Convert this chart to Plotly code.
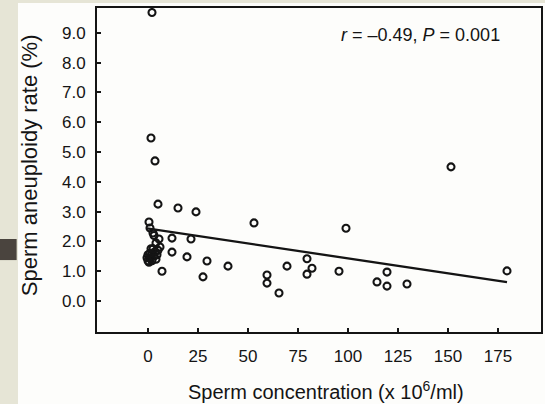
import plotly.graph_objects as go

# Sperm concentration (x10^6/ml) and aneuploidy rate (%) per subject
concentration = [
    2, 1.5, 3.5, 5, 15, 24, 0.5, 53, 99, 2.5, 5.5, 12, 21.5, 6, 12, 19.5, 29.5,
    7, 27.5, 40, 59.5, 59.5, 65.5, 69.5, 79.5, 82, 79.5, 95.5, 151.5, 119.5,
    114.5, 119.5, 129.5, 179.5,
    1, 3, 4, 5, 0, 1, 2, 3, 4, 0.5, 2, 3.5, -0.5, 1.5, 4.5, 1, 2.5, 0,
]
aneuploidy = [
    9.68, 5.47, 4.7, 3.25, 3.12, 2.99, 2.65, 2.62, 2.44, 2.28, 2.08, 2.11, 2.08,
    1.81, 1.64, 1.48, 1.34, 1.0, 0.81, 1.17, 0.87, 0.6, 0.27, 1.17, 1.42, 1.1,
    0.9, 1.0, 4.5, 0.97, 0.64, 0.5, 0.57, 1.01,
    2.45, 2.2, 1.95, 1.7, 1.55, 1.45, 1.35, 1.5, 1.4, 1.3, 1.6, 1.65, 1.45,
    1.75, 1.55, 1.6, 1.75, 1.35,
]

# Least-squares line parameters
fit_intercept = 2.43
fit_slope = -0.0100

x_ticks = [0, 25, 50, 75, 100, 125, 150, 175]
y_ticks = [0, 1, 2, 3, 4, 5, 6, 7, 8, 9]

FONT = "Liberation Sans, Arial, sans-serif"
INK = "#141414"

fit_x = [min(concentration), max(concentration)]
fit_y = [fit_intercept + fit_slope * v for v in fit_x]

fig = go.Figure()
fig.add_trace(go.Scatter(
    x=fit_x, y=fit_y, mode="lines",
    line=dict(color=INK, width=2.3), hoverinfo="skip", showlegend=False,
))
fig.add_trace(go.Scatter(
    x=concentration, y=aneuploidy, mode="markers",
    marker=dict(symbol="circle-open", size=7, color=INK,
                line=dict(color=INK, width=2.1)),
    showlegend=False,
))

# page background: slide texture tone, white card, small dark tab at left
shapes = [
    dict(type="rect", xref="paper", yref="paper", layer="below",
         x0=-0.178, x1=1.02, y0=-0.23, y1=1.0154,
         fillcolor="#fdfdfb", line=dict(width=0)),
    dict(type="rect", xref="paper", yref="paper", layer="below",
         x0=-0.2185, x1=-0.181, y0=0.222, y1=0.287,
         fillcolor="#4a443e", line=dict(width=0)),
]

annotations = [
    dict(text="<i>r</i> = \u20130.49, <i>P</i> = 0.001", xref="paper", yref="paper",
         x=0.729, y=0.917, xanchor="center", yanchor="middle", showarrow=False,
         font=dict(family=FONT, size=18, color=INK)),
    dict(text="Sperm concentration (x 10<sup>6</sup>/ml)", xref="paper", yref="paper",
         x=0.515, y=-0.18, xanchor="center", yanchor="middle", showarrow=False,
         font=dict(family=FONT, size=20, color=INK)),
    dict(text="Sperm aneuploidy rate (%)", xref="paper", yref="paper",
         x=-0.153, y=0.515, xanchor="center", yanchor="middle", showarrow=False,
         textangle=-90, font=dict(family=FONT, size=22, color=INK)),
]

fig.update_layout(
    width=545, height=404,
    margin=dict(l=97, r=4, t=8, b=72),
    paper_bgcolor="#e6e5d6",
    plot_bgcolor="#fdfdfb",
    shapes=shapes,
    annotations=annotations,
    xaxis=dict(
        range=[-25.5, 196.5], tickvals=x_ticks, ticks="inside", ticklen=4,
        tickwidth=1.5, tickcolor=INK, showline=True, linecolor=INK, linewidth=2,
        mirror=True, showgrid=False, zeroline=False, ticklabelstandoff=8,
        tickfont=dict(family=FONT, size=17, color=INK), automargin=False,
    ),
    yaxis=dict(
        range=[-1.04, 9.83], tickvals=y_ticks, tickformat=".1f", ticks="inside",
        ticklen=4, tickwidth=1.5, tickcolor=INK, showline=True, linecolor=INK,
        linewidth=2, mirror=True, showgrid=False, zeroline=False,
        ticklabelstandoff=6, tickfont=dict(family=FONT, size=17, color=INK),
        automargin=False,
    ),
)

fig.write_html("out.html")
